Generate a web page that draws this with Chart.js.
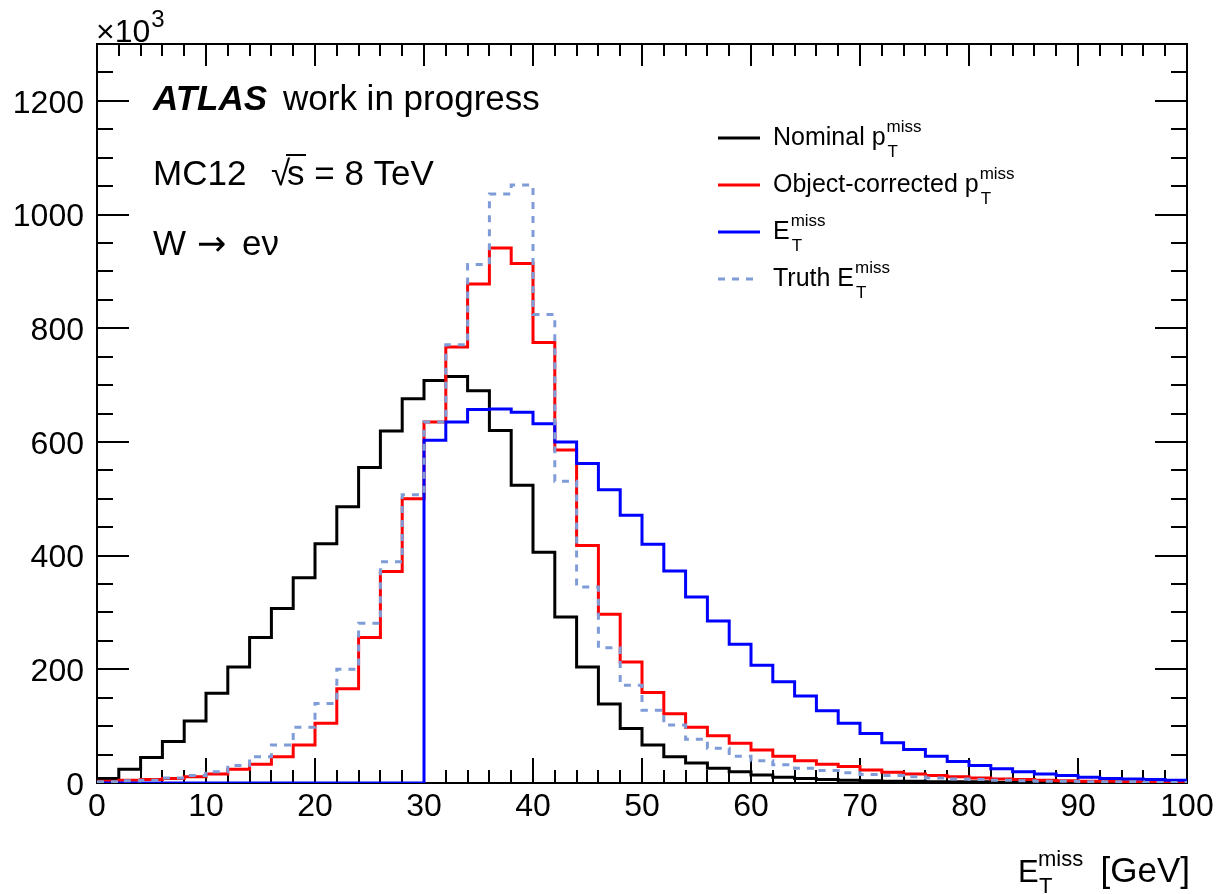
<!DOCTYPE html>
<html><head><meta charset="utf-8">
<script src="https://cdn.jsdelivr.net/npm/chart.js@4.4.0/dist/chart.umd.min.js"></script>
<style>html,body{margin:0;padding:0;background:#fff;} #wrap{width:1221px;height:894px;}</style>
</head><body><div id="wrap"><canvas id="c" width="1221" height="894"></canvas></div>
<script>
// ---- data (values in units of 10^3 entries per 2 GeV bin) ----
const binEdges = [0,2,4,6,8,10,12,14,16,18,20,22,24,26,28,30,32,34,36,38,40,42,44,46,48,50,
  52,54,56,58,60,62,64,66,68,70,72,74,76,78,80,82,84,86,88,90,92,94,96,98,100];
const nominalPt = [8,24,45,73,109,158,204,256,307,361,421,486,555,619,676,708,715,690,620,524,
  406,292,204,139,96,67,46,35,26,20,14,10,8,6,5,4,3,3,2,2,2,1,1,1,1,1,1,0.5,0.5,0.5];
const objCorrPt = [3,5,6,8,11,16,24,33,46,67,105,166,256,372,500,635,767,878,941,914,
  775,586,418,297,213,159,122,98,83,70,58,47,39,33,29,23,19,16,13,11,9,7,6,5,4,3,3,2,2,2];
const etMiss = [0,0,0,0,0,0,0,0,0,0,0,0,0,0,0,603,635,657,658,652,
  632,600,562,516,471,420,373,327,285,244,207,178,153,127,105,87,71,59,47,38,31,25,20,16,13,10,8,7,6,5];
const truthEt = [2,4,5,9,13,20,31,46,67,98,140,200,281,389,507,635,771,912,1036,1052,
  824,531,345,238,172,128,102,77,61,47,39,32,26,22,18,15,13,11,9,7,6,5,4,3,3,2,2,2,1,1];
const xTickLabels = [0,10,20,30,40,50,60,70,80,90,100];
const yTickLabels = [0,200,400,600,800,1000,1200];

const F = '"Liberation Sans", Arial, Helvetica, sans-serif';
const C_BLACK = '#000000', C_RED = '#ff0000', C_BLUE = '#0000ff', C_TRUTH = '#7f9cd8';

function histPoints(vals) {
  return binEdges.map((x, i) => ({x: x, y: vals[Math.min(i, vals.length - 1)]}));
}

const framePlugin = {
  id: 'frame',
  beforeDatasetsDraw(chart) {
    const ctx = chart.ctx, a = chart.chartArea;
    const xs = chart.scales.x, ys = chart.scales.y;
    ctx.save();
    ctx.strokeStyle = '#000'; ctx.lineWidth = 2;
    ctx.strokeRect(a.left, a.top, a.right - a.left, a.bottom - a.top);
    ctx.beginPath();
    for (let v = 0; v <= 100; v += 2) {
      const px = Math.round(xs.getPixelForValue(v));
      const L = (v % 10 === 0) ? 25 : 13;
      const Lt = (v % 10 === 0) ? 22 : 12;
      ctx.moveTo(px, a.bottom); ctx.lineTo(px, a.bottom - L);
      ctx.moveTo(px, a.top); ctx.lineTo(px, a.top + Lt);
    }
    for (let v = 0; v <= 1300; v += 50) {
      const py = Math.round(ys.getPixelForValue(v));
      const L = (v % 200 === 0) ? 32 : 16;
      ctx.moveTo(a.left, py); ctx.lineTo(a.left + L, py);
      ctx.moveTo(a.right, py); ctx.lineTo(a.right - L, py);
    }
    ctx.stroke();
    ctx.restore();
  },
  afterDraw(chart) {
    const ctx = chart.ctx;
    ctx.save();
    ctx.fillStyle = '#000';
    ctx.textBaseline = 'alphabetic';
    ctx.textAlign = 'left';
    // x10^3
    ctx.font = '32px ' + F;
    ctx.fillText('\u00d710', 96, 42);
    let w = ctx.measureText('\u00d710').width;
    ctx.font = '24px ' + F;
    ctx.fillText('3', 96 + w + 1, 27);
    // ATLAS label
    ctx.font = 'italic bold 35px ' + F;
    ctx.fillText('ATLAS', 153, 110);
    ctx.font = '35px ' + F;
    ctx.fillText('work in progress', 283, 110);
    ctx.fillText('MC12', 153, 185);
    ctx.fillText('\u221a', 271, 185);
    ctx.fillText('s = 8 TeV', 287, 185);
    ctx.strokeStyle = '#000'; ctx.lineWidth = 2;
    ctx.beginPath(); ctx.moveTo(286, 155); ctx.lineTo(306, 155); ctx.stroke();
    ctx.fillText('W', 153, 255);
    ctx.fillText('e\u03bd', 242, 255);
    ctx.font = '35px "DejaVu Sans", ' + F;
    ctx.fillText('\u2192', 197, 255);

    // legend
    const rows = [
      {c: C_BLACK, dash: [], main: 'Nominal p', y: 145},
      {c: C_RED, dash: [], main: 'Object-corrected p', y: 192},
      {c: C_BLUE, dash: [], main: 'E', y: 239},
      {c: C_TRUTH, dash: [7, 7], main: 'Truth E', y: 286}
    ];
    rows.forEach(r => {
      ctx.save();
      ctx.strokeStyle = r.c; ctx.lineWidth = 3; ctx.setLineDash(r.dash);
      ctx.beginPath(); ctx.moveTo(718, r.y - 7); ctx.lineTo(760, r.y - 7); ctx.stroke();
      ctx.restore();
      ctx.font = '25px ' + F;
      ctx.fillText(r.main, 773, r.y);
      const mw = ctx.measureText(r.main).width;
      ctx.font = '17px ' + F;
      ctx.fillText('miss', 773 + mw + 1, r.y - 13);
      ctx.fillText('T', 773 + mw + 2, r.y + 12);
    });

    // x-axis title
    ctx.font = '31px ' + F;
    ctx.fillText('E', 1018, 882);
    ctx.font = '22px ' + F;
    ctx.fillText('miss', 1038, 866);
    ctx.fillText('T', 1039, 893);
    ctx.font = '35px ' + F;
    ctx.textAlign = 'right';
    ctx.fillText('[GeV]', 1190, 882);
    ctx.restore();
  }
};

const mkDs = (label, vals, color, order, dash) => ({
  label: label,
  data: histPoints(vals),
  borderColor: color,
  backgroundColor: color,
  borderWidth: 3,
  borderDash: dash || [],
  stepped: 'before',
  pointRadius: 0,
  fill: false,
  order: order
});

new Chart(document.getElementById('c'), {
  type: 'line',
  data: {
    datasets: [
      mkDs('Truth E_T^miss', truthEt, C_TRUTH, 0, [7, 7]),
      mkDs('E_T^miss', etMiss, C_BLUE, 1),
      mkDs('Object-corrected p_T^miss', objCorrPt, C_RED, 2),
      mkDs('Nominal p_T^miss', nominalPt, C_BLACK, 3)
    ]
  },
  options: {
    responsive: false,
    devicePixelRatio: 1,
    animation: false,
    layout: {padding: {top: 44, right: 34, left: 0, bottom: 0}},
    plugins: {legend: {display: false}, tooltip: {enabled: false}},
    scales: {
      x: {
        type: 'linear', min: 0, max: 100,
        grid: {display: false, drawTicks: false},
        border: {display: false},
        afterBuildTicks: s => { s.ticks = xTickLabels.map(v => ({value: v})); },
        afterFit: s => { s.height = 111; },
        ticks: {color: '#000', font: {size: 32, family: F}, padding: 5, maxRotation: 0, autoSkip: false,
                callback: v => String(v)}
      },
      y: {
        type: 'linear', min: 0, max: 1300,
        grid: {display: false, drawTicks: false},
        border: {display: false},
        afterBuildTicks: s => { s.ticks = yTickLabels.map(v => ({value: v})); },
        afterFit: s => { s.width = 97; },
        ticks: {color: '#000', font: {size: 32, family: F}, padding: 13, labelOffset: 3,
                callback: v => String(v)}
      }
    }
  },
  plugins: [framePlugin]
});
</script>
</body></html>
